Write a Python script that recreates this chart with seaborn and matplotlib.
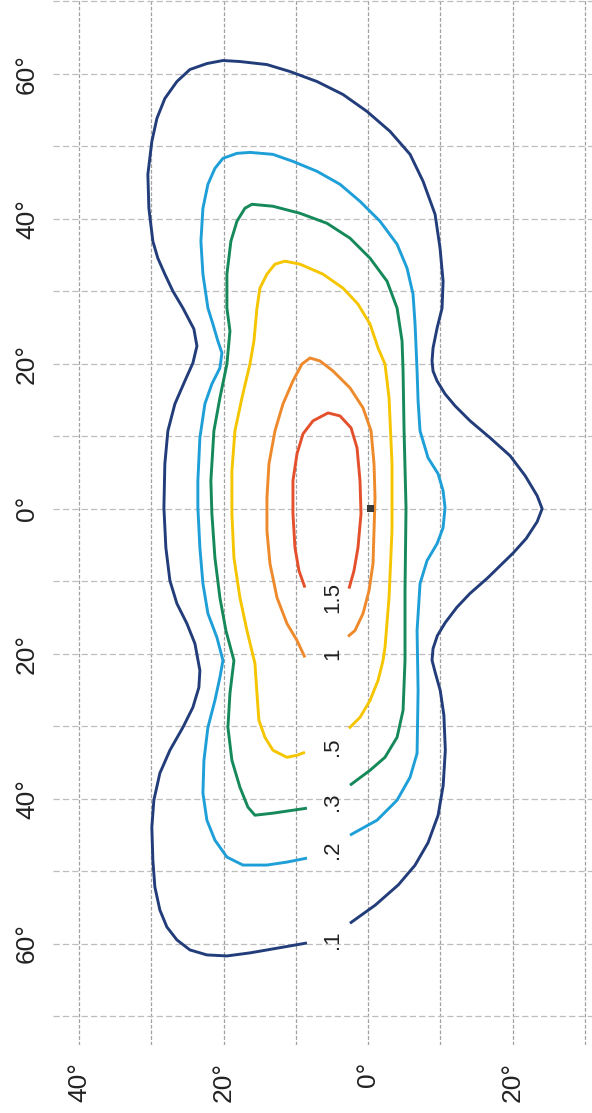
import numpy as np
import pandas as pd
import matplotlib
matplotlib.use("Agg")
import matplotlib.pyplot as plt
import seaborn as sns

# ---------------- data (isolines) ----------------
# V: vertical angle (picture x axis, left positive), H: horizontal angle (picture y axis)
LEVELS = [".1", ".2", ".3", ".5", "1", "1.5"]
COLORS = ["#233d7b", "#1e9fd8", "#16895a", "#f5c600", "#ee8a2c", "#e4502c"]

V_01 = [8.45, 10.80, 13.16, 16.34, 19.53, 22.30, 24.65, 26.45, 27.84, 28.81, 29.50, 29.78, 29.92,
        29.64, 28.81, 27.42, 25.62, 24.24, 23.41, 23.27, 23.96, 25.07, 26.45, 27.42, 27.98, 28.25,
        28.12, 27.70, 26.73, 25.35, 24.24, 23.68, 24.10, 25.62, 27.01, 28.12, 29.09, 29.78, 30.33,
        30.47, 29.92, 29.22, 28.12, 26.45, 24.65, 22.30, 20.08, 17.73, 13.99, 10.80, 7.06, 3.46,
        0.14, -3.05, -5.82, -7.62, -9.28, -9.97, -10.39, -10.25, -9.56, -9.00, -8.86, -9.00, -9.56,
        -10.66, -12.05, -14.13, -16.90, -19.67, -21.75, -23.41, -24.10, -23.41, -21.90, -20.10,
        -16.50, -14.10, -12.30, -10.70, -9.60, -9.00, -8.86, -9.30, -10.00, -10.50, -10.70, -10.40,
        -9.70, -8.30, -6.50, -4.20, -1.00, 2.50]
H_01 = [-59.92, -60.33, -60.74, -61.29, -61.71, -61.57, -60.88, -59.50, -57.71, -55.37, -52.20,
        -48.48, -43.94, -40.22, -36.50, -33.33, -30.17, -27.41, -24.66, -22.31, -18.60, -15.84,
        -13.09, -9.92, -5.37, 0.14, 6.20, 10.74, 14.46, 17.63, 20.10, 22.45, 24.80, 27.69, 30.03,
        32.37, 34.57, 36.91, 41.46, 46.14, 50.69, 53.86, 56.61, 58.95, 60.61, 61.43, 61.85, 61.71,
        61.29, 60.33, 58.95, 57.16, 54.82, 52.07, 48.90, 45.18, 40.63, 35.95, 31.40, 27.69, 24.93,
        22.18, 20.39, 19.00, 17.63, 15.84, 14.19, 12.12, 9.78, 7.30, 4.55, 1.79, 0.00, -1.79,
        -4.10, -6.10, -9.60, -11.70, -13.60, -15.70, -17.50, -19.30, -20.90, -22.60, -25.10,
        -28.50, -33.30, -38.20, -42.30, -46.10, -49.20, -51.90, -54.70, -57.20]

V_02 = [8.45, 11.22, 13.99, 17.31, 19.53, 21.19, 22.30, 22.85, 22.71, 22.16, 21.19, 20.50, 20.08,
        20.91, 22.16, 22.85, 23.27, 23.55, 23.55, 23.27, 22.58, 21.61, 20.50, 20.22, 20.78, 21.47,
        22.16, 22.85, 23.13, 22.85, 22.16, 21.19, 20.08, 18.14, 16.34, 13.16, 10.39, 7.06, 3.88,
        1.11, -1.66, -4.02, -5.40, -6.23, -6.51, -6.79, -6.93, -7.20, -8.31, -9.70, -10.39, -10.66,
        -10.39, -9.56, -8.17, -7.20, -6.79, -6.93, -6.79, -5.82, -4.02, -1.25, 2.49]
H_02 = [-48.21, -48.76, -49.17, -49.17, -48.07, -45.73, -42.98, -39.26, -34.71, -30.17, -26.45,
        -23.28, -20.94, -17.77, -14.46, -10.33, -5.37, 0.14, 3.86, 9.78, 14.46, 17.22, 19.42,
        21.49, 23.14, 25.48, 27.69, 32.37, 36.91, 41.46, 44.77, 46.97, 48.35, 49.04, 49.17, 48.90,
        47.93, 46.56, 44.77, 42.42, 39.67, 36.50, 33.20, 29.61, 25.48, 19.01, 14.88, 10.74, 7.02,
        4.82, 2.48, 0.14, -2.62, -4.82, -7.16, -10.33, -16.80, -25.07, -33.75, -37.05, -40.22,
        -42.98, -45.04]

V_03 = [8.45, 13.16, 15.65, 16.62, 17.73, 18.84, 19.39, 19.11, 18.56, 19.67, 20.50, 21.19, 21.61,
        21.75, 21.33, 20.50, 19.53, 19.11, 19.53, 19.53, 18.98, 18.14, 17.04, 16.07, 13.16, 9.42,
        5.68, 2.49, -0.28, -2.63, -4.02, -4.71, -4.85, -4.99, -5.26, -5.12, -5.12, -4.85, -4.02,
        -2.35, -0.28, 2.49]
H_03 = [-41.32, -42.01, -42.29, -41.18, -38.43, -34.71, -30.17, -25.48, -20.94, -16.80, -12.26,
        -6.75, -0.69, 3.86, 10.74, 15.29, 19.97, 24.52, 27.69, 32.37, 36.91, 39.67, 41.46, 42.01,
        41.74, 40.77, 39.39, 37.33, 34.57, 31.40, 27.69, 23.14, 19.01, 10.74, 0.14, -11.29, -20.94,
        -27.82, -31.54, -34.30, -36.09, -38.15]

V_05 = [8.73, 9.83, 11.22, 13.16, 14.27, 15.10, 15.37, 15.65, 16.76, 17.73, 18.56, 18.84, 18.84,
        18.42, 17.45, 16.34, 15.79, 15.37, 14.96, 13.99, 12.88, 11.50, 9.42, 6.23, 3.46, 1.39,
        -0.28, -1.39, -2.35, -2.91, -3.32, -3.32, -2.91, -2.35, -2.08, -1.39, -0.28, 1.11, 2.63]
H_05 = [-33.61, -34.02, -34.30, -33.33, -31.54, -29.20, -25.48, -21.35, -16.80, -12.26, -6.75,
        -0.69, 5.23, 10.74, 15.29, 19.97, 23.14, 27.69, 30.44, 32.37, 33.75, 34.16, 33.75, 32.37,
        30.44, 28.24, 25.48, 22.18, 19.97, 15.29, 6.20, -3.03, -12.26, -19.15, -20.94, -23.69,
        -26.45, -28.79, -30.30]

V_1 = [8.73, 9.83, 11.22, 12.60, 13.57, 13.99, 13.99, 13.71, 12.88, 11.77, 10.39, 9.14, 8.03, 6.65,
       4.85, 2.49, 0.69, -0.42, -0.83, -0.97, -0.83, -0.69, -0.14, 0.69, 1.80, 2.77]
H_1 = [-20.52, -18.18, -15.84, -12.26, -7.58, -3.03, 1.52, 6.20, 10.74, 14.46, 17.63, 19.97, 20.80,
       20.39, 19.01, 16.67, 13.91, 10.74, 6.20, 1.52, -3.03, -7.58, -11.29, -14.46, -16.80, -17.63]

V_15 = [8.73, 9.56, 10.11, 10.39, 10.39, 9.83, 9.00, 7.62, 5.54, 3.88, 2.35, 1.52, 1.11, 0.97, 1.39,
        1.94, 2.63]
H_15 = [-10.88, -8.54, -5.37, -0.69, 3.86, 7.58, 10.33, 12.12, 13.22, 12.81, 11.16, 8.40, 3.86,
        -0.69, -5.37, -8.54, -11.02]

# label positions of the isolines
LABEL_V = [4.85, 4.85, 4.85, 4.85, 4.85, 4.85]
LABEL_H = [-59.4, -47.0, -40.4, -32.9, -20.0, -12.3]

# reference point
POINT_V = [-0.3]
POINT_H = [0.0]

X_TICKS = [40, 20, 0, -20]
X_TICKLABELS = ["40°", "20°", "0°", "20°"]
Y_TICKS = [60, 40, 20, 0, -20, -40, -60]
Y_TICKLABELS = ["60°", "40°", "20°", "0°", "20°", "40°", "60°"]

# ---------------- build table ----------------
series = [(V_01, H_01), (V_02, H_02), (V_03, H_03), (V_05, H_05), (V_1, H_1), (V_15, H_15)]
frames = []
for lev, (vv, hh) in zip(LEVELS, series):
    frames.append(pd.DataFrame({"V": vv, "H": hh, "level": lev}))
df = pd.concat(frames, ignore_index=True)

# ---------------- plot ----------------
sns.set_style("white")
plt.rcParams["font.family"] = ["Liberation Sans", "DejaVu Sans"]

fig = plt.figure(figsize=(5.92, 11.13), dpi=100)
ax = fig.add_axes([53 / 592, 68 / 1113, 539 / 592, 1045 / 1113])

sns.lineplot(data=df, x="V", y="H", hue="level", hue_order=LEVELS,
             palette=dict(zip(LEVELS, COLORS)), units="level", estimator=None,
             sort=False, lw=2.1, legend=False, ax=ax)
for line in ax.lines:
    line.set_solid_joinstyle("round")
    line.set_solid_capstyle("butt")

sns.scatterplot(x=POINT_V, y=POINT_H, marker="s", s=24, color="#3a3a3a",
                edgecolor="none", ax=ax, zorder=5)

for lab, lv, lh in zip(LEVELS, LABEL_V, LABEL_H):
    ax.text(lv, lh, lab, rotation=90, ha="center", va="center",
            fontsize=16, color="#222222")

ax.set_xlim(43.6, -31.0)
ax.set_ylim(-74.0, 70.2)

ax.set_xticks(X_TICKS)
ax.set_xticklabels(X_TICKLABELS, rotation=90, fontsize=19, color="#222222")
ax.set_xticks([30, 10, -10, -30], minor=True)
ax.set_yticks(Y_TICKS)
ax.set_yticklabels(Y_TICKLABELS, rotation=90, fontsize=19, color="#222222", va="center")
ax.set_yticks([70, 50, 30, 10, -10, -30, -50, -70], minor=True)
ax.tick_params(axis="both", which="both", length=0)
ax.tick_params(axis="x", pad=12)
ax.tick_params(axis="y", pad=10)

ax.xaxis.grid(True, which="both", color="#a0a0a0", lw=0.9, ls=(0, (3, 1.5)))
ax.yaxis.grid(True, which="both", color="#bdbdbd", lw=0.9, ls=(0, (5, 2.5)))
ax.set_axisbelow(True)
ax.set_xlabel("")
ax.set_ylabel("")
for sp in ax.spines.values():
    sp.set_visible(False)

fig.savefig("out.png", dpi=100, facecolor="white")
